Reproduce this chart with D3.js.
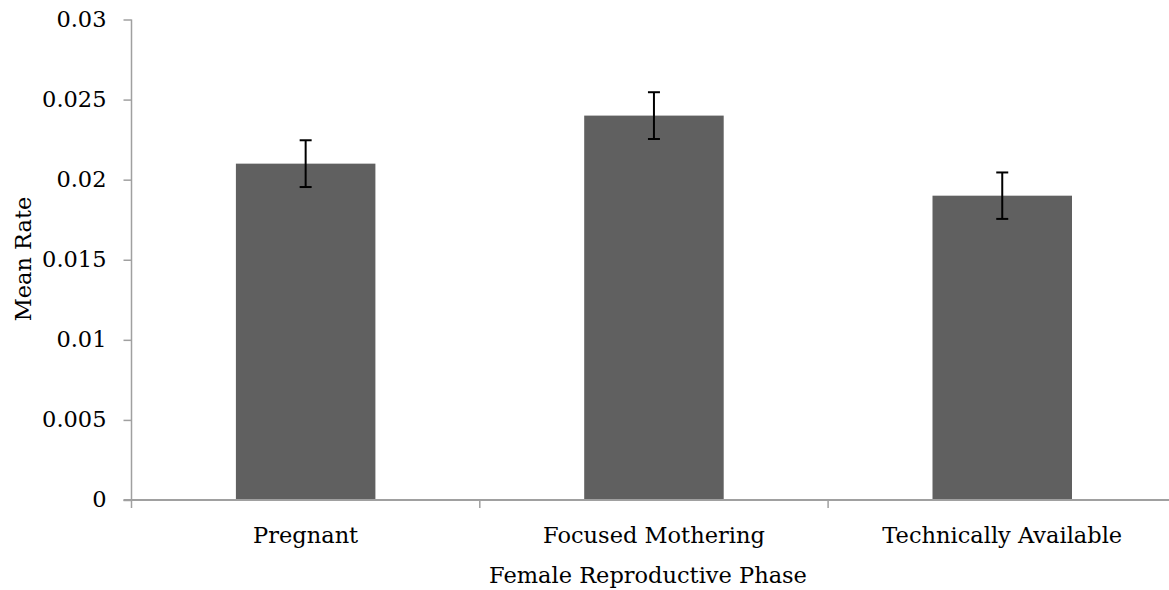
<!DOCTYPE html>
<html><head><meta charset="utf-8">
<script src="https://cdn.jsdelivr.net/npm/d3@7"></script>
<style>
html,body{margin:0;padding:0;background:#fff;}
svg{display:block;}
text{font-family:"DejaVu Serif",serif;fill:#000;}
</style></head>
<body>
<svg id="chart" width="1169" height="590"></svg>
<script>
const categories = ["Pregnant", "Focused Mothering", "Technically Available"];
const meanRates = [0.021, 0.024, 0.019];
const errors = [0.00146, 0.00146, 0.00145];
const yTicks = [0, 0.005, 0.01, 0.015, 0.02, 0.025, 0.03];
const yTickLabels = ["0", "0.005", "0.01", "0.015", "0.02", "0.025", "0.03"];
const xTitle = "Female Reproductive Phase";
const yTitle = "Mean Rate";

const svg = d3.select("#chart");
const x0 = 131.5, bandW = 348.3;
const x = d3.scaleBand().domain(categories).range([x0, x0 + 3*bandW]).paddingInner(0).paddingOuter(0);
const y = d3.scaleLinear().domain([0, 0.03]).range([500, 19.5]);
const barW = 139.5;
const axisColor = "#a0a0a0";
const fs = 22.5;

// bars
svg.append("g").selectAll("rect").data(meanRates).join("rect")
  .attr("x", (d,i)=> x(categories[i]) + x.bandwidth()/2 - barW/2)
  .attr("y", d=> y(d))
  .attr("width", barW)
  .attr("height", d=> y(0)-y(d))
  .attr("fill", "#606060");

// y axis
const yAxis = d3.axisLeft(y).tickValues(yTicks).tickFormat((d,i)=>yTickLabels[i]).tickSize(8).tickPadding(17);
const gy = svg.append("g").attr("transform", `translate(${x0},0)`).call(yAxis);
gy.select(".domain").attr("stroke", axisColor).attr("stroke-width", 1.5).attr("d", `M0,${y(0.03)}V${y(0)}`);
gy.selectAll(".tick line").attr("stroke", axisColor).attr("stroke-width", 1.5);
gy.selectAll(".tick text").attr("font-family", "DejaVu Serif").attr("font-size", fs).attr("fill", "#000").attr("dy", "0.3em");

// x axis
const gx = svg.append("g").attr("transform", `translate(0,${y(0)})`);
gx.append("line").attr("x1", x0 - 8).attr("x2", 1169).attr("y1", 0).attr("y2", 0)
  .attr("stroke", axisColor).attr("stroke-width", 2);
const boundaries = categories.map(c => x(c)).concat([x0 + 3*bandW]);
gx.selectAll("line.bt").data(boundaries).join("line").attr("class","bt")
  .attr("x1", d=>d).attr("x2", d=>d).attr("y1", 0).attr("y2", 8)
  .attr("stroke", axisColor).attr("stroke-width", 1.5);
gx.selectAll("text.cat").data(categories).join("text").attr("class","cat")
  .attr("x", d=> x(d) + x.bandwidth()/2).attr("y", 43)
  .attr("text-anchor", "middle").attr("font-size", fs).text(d=>d);

// error bars
const eb = svg.append("g");
meanRates.forEach((d,i)=>{
  const cx = x(categories[i]) + x.bandwidth()/2;
  const yt = y(d + errors[i]), yb = y(d - errors[i]);
  eb.append("line").attr("x1",cx).attr("x2",cx).attr("y1",yt).attr("y2",yb).attr("stroke","#000").attr("stroke-width",2);
  eb.append("line").attr("x1",cx-6).attr("x2",cx+6).attr("y1",yt).attr("y2",yt).attr("stroke","#000").attr("stroke-width",2);
  eb.append("line").attr("x1",cx-6).attr("x2",cx+6).attr("y1",yb).attr("y2",yb).attr("stroke","#000").attr("stroke-width",2);
});

// titles
svg.append("text").attr("x", 648).attr("y", 583).attr("text-anchor","middle").attr("font-size",fs).text(xTitle);
svg.append("text").attr("transform","translate(31,259) rotate(-90)").attr("text-anchor","middle").attr("font-size",fs).text(yTitle);
</script>
</body></html>
